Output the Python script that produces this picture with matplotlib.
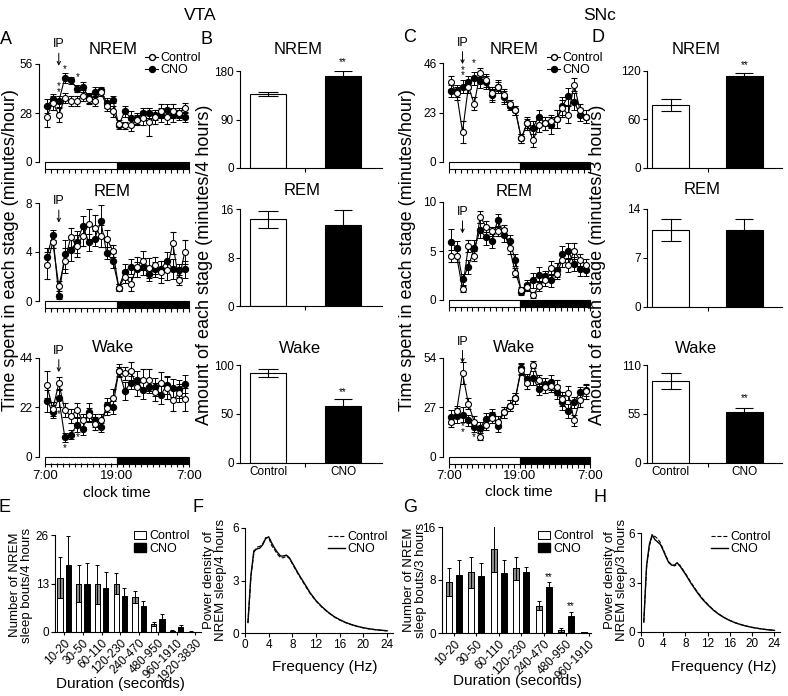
import numpy as np
import matplotlib.pyplot as plt
from matplotlib.patches import Rectangle, Patch
from matplotlib.lines import Line2D

plt.rcParams['font.family'] = ['Liberation Sans', 'DejaVu Sans']
plt.rcParams['axes.linewidth'] = 0.8
plt.rcParams['xtick.major.width'] = 0.8
plt.rcParams['ytick.major.width'] = 0.8
plt.rcParams['xtick.minor.width'] = 0.8
plt.rcParams['xtick.labelsize'] = 8.5
plt.rcParams['ytick.labelsize'] = 8.5
plt.rcParams['xtick.major.pad'] = 1.5
plt.rcParams['ytick.major.pad'] = 1.5

# ---------------- data ----------------
hours = np.arange(24) + 0.3          # hourly bins from 7:00

# VTA time courses (A)
vta_nrem_ctrl = [26, 34, 27, 36.5, 35, 35, 38, 36, 35, 40, 32, 29, 22, 21, 21, 24, 25, 23, 26, 29, 26, 29, 28, 31]
vta_nrem_ctrl_err = [6, 4, 4, 3, 3, 3, 3, 3, 3, 2, 3, 3, 2, 2, 3, 3, 4, 8, 4, 4, 4, 4, 3, 3]
vta_nrem_cno = [32, 36, 34.7, 48, 46.7, 42, 43, 36.6, 40, 41, 33.7, 35.6, 21, 29, 25, 25, 28, 28, 27, 27, 30, 27, 27, 25.7]
vta_nrem_cno_err = [4, 3, 3, 3, 2, 2, 3, 3, 3, 2, 3, 2, 2, 3, 4, 3, 3, 3, 3, 4, 3, 4, 3, 3]

vta_rem_ctrl = [2.9, 4.8, 1.2, 3.3, 5.2, 4.5, 5.3, 6.3, 6.0, 5.3, 5.1, 4.1, 1.1, 2.0, 1.4, 2.8, 3.3, 2.7, 2.9, 2.4, 2.5, 4.7, 1.7, 4.0]
vta_rem_ctrl_err = [1.1, 0.5, 0.4, 1.0, 0.8, 0.9, 0.8, 1.2, 1.0, 0.9, 0.7, 0.5, 0.3, 0.5, 0.6, 0.8, 0.8, 0.8, 0.7, 0.9, 0.8, 0.9, 0.4, 1.0]
vta_rem_cno = [3.6, 5.4, 0.4, 3.8, 4.2, 4.8, 6.1, 4.8, 5.1, 6.5, 3.9, 3.3, 1.1, 2.4, 2.8, 2.6, 2.8, 2.2, 2.6, 2.6, 3.3, 2.6, 2.5, 2.6]
vta_rem_cno_err = [0.7, 0.4, 0.2, 1.2, 0.9, 0.9, 0.8, 0.7, 0.6, 1.3, 0.5, 0.6, 0.3, 0.6, 0.6, 0.6, 0.7, 0.6, 0.6, 0.7, 0.7, 0.8, 0.5, 0.7]

vta_wake_ctrl = [32, 21.2, 32.7, 20.7, 18, 20.7, 16.2, 18.5, 14.7, 16.2, 21.5, 26, 38, 37.2, 38, 31.2, 34.2, 34.2, 29, 32.7, 30.5, 25.2, 28.2, 25.5]
vta_wake_ctrl_err = [6, 3, 3, 3, 3, 3, 3, 3, 3, 3, 3, 4, 2, 3, 4, 4, 5, 5, 4, 5, 5, 5, 4, 5]
vta_wake_cno = [24.8, 20, 26, 8.7, 9.8, 14, 12.5, 20, 16.2, 13, 23, 22, 38.4, 29.4, 33, 34.2, 29.7, 31.2, 31.2, 27.5, 32, 30.5, 30, 32.4]
vta_wake_cno_err = [5, 3, 4, 2, 2, 3, 3, 4, 3, 2, 3, 3, 3, 4, 3, 4, 4, 3, 4, 4, 4, 4, 4, 4]

# SNc time courses (C)
snc_nrem_ctrl = [37, 32, 14, 35, 27, 41.5, 38, 32, 35, 31, 27, 24, 11, 18, 10, 17, 18, 19, 20, 25, 22, 36, 24, 21]
snc_nrem_ctrl_err = [3, 3, 5, 3, 3, 2, 3, 3, 2, 3, 2, 2, 2, 3, 3, 3, 3, 3, 4, 4, 4, 3, 3, 3]
snc_nrem_cno = [33, 33, 35, 37, 39, 37.5, 37, 31, 35, 30, 26, 24, 11, 18, 16, 21, 18, 17, 20, 26, 30.5, 28, 22, 21]
snc_nrem_cno_err = [3, 3, 3, 3, 3, 3, 3, 3, 3, 3, 2, 2, 2, 2, 3, 3, 3, 4, 4, 4, 4, 4, 3, 3]

snc_rem_ctrl = [4.5, 4.5, 1.1, 5.5, 4.5, 8.5, 7.5, 7.0, 7.0, 7.1, 5.3, 2.8, 1.0, 1.35, 0.5, 1.4, 2.0, 3.3, 2.7, 4.1, 3.6, 5.0, 4.1, 3.6]
snc_rem_ctrl_err = [0.6, 0.6, 0.3, 0.6, 0.5, 0.6, 0.6, 0.5, 0.5, 0.6, 0.6, 0.5, 0.3, 0.4, 0.3, 0.5, 0.6, 0.7, 0.6, 0.7, 0.7, 0.8, 0.6, 0.6]
snc_rem_cno = [5.9, 5.3, 2.1, 3.4, 5.3, 7.1, 6.4, 6.0, 8.2, 6.6, 6.0, 4.1, 0.85, 1.5, 2.0, 2.6, 2.4, 2.0, 3.05, 4.7, 5.0, 3.7, 3.2, 3.1]
snc_rem_cno_err = [1.3, 0.7, 0.6, 0.7, 0.8, 0.8, 0.8, 0.7, 0.6, 0.7, 0.6, 0.6, 0.3, 0.5, 0.8, 0.8, 0.6, 0.7, 0.7, 0.8, 0.8, 0.7, 0.7, 0.6]

snc_wake_ctrl = [19, 25, 45.8, 29, 19, 11, 17.6, 21.2, 19, 24.3, 27.8, 32, 47.6, 40.3, 50.4, 41.8, 38, 38.5, 38, 31.5, 34.8, 20, 31, 35.7]
snc_wake_ctrl_err = [3, 3, 6, 3, 3, 2, 3, 3, 3, 3, 3, 3, 3, 3, 2, 3, 3, 3, 4, 4, 4, 3, 4, 4]
snc_wake_cno = [21.8, 22.5, 23, 20, 16.3, 15.8, 20.7, 23, 16.7, 24.3, 27.8, 32, 48.5, 42.5, 43, 37, 40, 40.7, 35.3, 29.7, 24.9, 29.7, 35.3, 36.4]
snc_wake_cno_err = [4, 4, 4, 3, 3, 3, 3, 3, 3, 3, 3, 3, 3, 3, 4, 3, 3, 4, 4, 4, 4, 3, 3, 3]

# totals (B, D): [Control, CNO]
groups = ['Control', 'CNO']
vta_tot_nrem, vta_tot_nrem_err = [137, 171], [4, 9]
vta_tot_rem, vta_tot_rem_err = [14.3, 13.3], [1.4, 2.5]
vta_tot_wake, vta_tot_wake_err = [91.5, 58], [4, 7.5]
snc_tot_nrem, snc_tot_nrem_err = [77.5, 113.4], [7.5, 3.3]
snc_tot_rem, snc_tot_rem_err = [11.0, 11.0], [1.6, 1.6]
snc_tot_wake, snc_tot_wake_err = [92.4, 57.4], [9, 3.8]

# bout distributions (E, G)
bins_vta = ['10-20', '30-50', '60-110', '120-230', '240-470', '480-950', '960-1910', '1920-3830']
vta_bout_ctrl = [14.5, 13, 12.8, 13, 9.4, 2.2, 0.4, 0.1]
vta_bout_ctrl_err = [5.5, 5, 5.2, 2.7, 1.6, 0.5, 0.1, 0.05]
vta_bout_cno = [18, 13, 11.8, 9.6, 6.9, 3.6, 1.35, 0.05]
vta_bout_cno_err = [7.7, 5.4, 4.3, 2.3, 1.3, 1.1, 0.45, 0.02]
bins_snc = ['10-20', '30-50', '60-110', '120-230', '240-470', '480-950', '960-1910']
snc_bout_ctrl = [7.65, 9.15, 12.75, 9.75, 4.15, 0.5, 0.1]
snc_bout_ctrl_err = [2.1, 2.35, 3.5, 1.75, 0.75, 0.3, 0.05]
snc_bout_cno = [8.75, 8.6, 9.0, 9.25, 7.0, 2.5, 0.05]
snc_bout_cno_err = [2.25, 1.9, 2.0, 0.75, 0.75, 0.6, 0.02]

# NREM power spectra (F, H)
freq = [0.5, 1, 1.5, 2, 2.5, 3, 3.5, 4, 4.5, 5, 5.5, 6, 6.5, 7, 7.5, 8, 9, 10, 11, 12,
        13, 14, 15, 16, 17, 18, 19, 20, 21, 22, 23, 24]
vta_pow_ctrl = [0.6, 3.2, 4.6, 4.9, 4.95, 5.1, 5.45, 5.45, 5.0, 4.75, 4.5, 4.3, 4.3, 4.4, 4.25, 3.95,
                3.35, 2.8, 2.25, 1.82, 1.47, 1.18, 0.93, 0.74, 0.59, 0.47, 0.37, 0.29, 0.23, 0.19, 0.15, 0.12]
vta_pow_cno = [0.6, 3.3, 4.7, 4.8, 4.85, 5.05, 5.4, 5.5, 5.15, 4.85, 4.6, 4.4, 4.4, 4.45, 4.3, 4.0,
               3.4, 2.85, 2.3, 1.85, 1.5, 1.2, 0.95, 0.76, 0.6, 0.48, 0.38, 0.3, 0.24, 0.19, 0.16, 0.13]
snc_pow_ctrl = [0.6, 3.9, 5.2, 5.8, 5.8, 5.65, 5.4, 5.0, 4.6, 4.25, 4.1, 4.0, 4.1, 4.05, 3.8, 3.55,
                3.0, 2.5, 2.05, 1.68, 1.35, 1.09, 0.88, 0.7, 0.56, 0.45, 0.36, 0.28, 0.22, 0.17, 0.13, 0.1]
snc_pow_cno = [0.6, 4.0, 5.3, 5.9, 5.6, 5.45, 5.3, 4.95, 4.55, 4.2, 4.05, 4.05, 4.2, 4.0, 3.75, 3.5,
               2.95, 2.45, 2.0, 1.65, 1.33, 1.07, 0.86, 0.69, 0.55, 0.44, 0.35, 0.28, 0.22, 0.17, 0.13, 0.1]

# ---------------- layout helpers ----------------
W, H = 788, 696
fig = plt.figure(figsize=(W / 100, H / 100), dpi=100)


def box(x0, x1, ytop, ybot):
    return [x0 / W, 1 - ybot / H, (x1 - x0) / W, (ybot - ytop) / H]


def ftext(x, y, s, **kw):
    kw.setdefault('ha', 'center')
    kw.setdefault('va', 'center')
    fig.text(x / W, 1 - y / H, s, **kw)


def timecourse(rect, ctrl, ctrl_err, cno, cno_err, ymax, show_x=False):
    ax = fig.add_axes(rect)
    ax.errorbar(hours, cno, yerr=cno_err, fmt='-o', color='black', mfc='black', mec='black',
                ms=4.3, lw=0.8, elinewidth=0.7, capsize=2, capthick=0.7, zorder=2, clip_on=False)
    ax.errorbar(hours, ctrl, yerr=ctrl_err, fmt='-o', color='black', mfc='white', mec='black',
                ms=4.3, mew=0.8, lw=0.8, elinewidth=0.7, capsize=2, capthick=0.7, zorder=3, clip_on=False)
    ax.set_xlim(0, 24)
    ax.set_ylim(0, ymax)
    ax.set_yticks([0, ymax // 2, ymax])
    ax.spines[['top', 'right']].set_visible(False)
    ax.spines['left'].set_position(('outward', 4.5))
    ax.spines['bottom'].set_position(('outward', 5))
    ax.spines['bottom'].set_visible(False)
    tr = ax.get_xaxis_transform()
    ax.add_patch(Rectangle((0, -0.072), 12, 0.072, transform=tr, fc='white', ec='black', lw=0.8, clip_on=False))
    ax.add_patch(Rectangle((12, -0.072), 12, 0.072, transform=tr, fc='black', ec='black', lw=0.8, clip_on=False))
    ax.set_xticks([0, 12, 24])
    ax.set_xticks(np.arange(25), minor=True)
    ax.tick_params(axis='x', which='both', direction='out', length=3)
    ax.tick_params(axis='y', length=3)
    if show_x:
        ax.set_xticklabels(['7:00', '19:00', '7:00'], fontsize=9.5)
    else:
        ax.set_xticklabels([])
    return ax


def ip_mark(ax, y):
    ax.annotate('IP', xy=(2.3, y), xytext=(0, 11), textcoords='offset points', ha='center', va='bottom',
                fontsize=9, arrowprops=dict(arrowstyle='->', lw=0.7, mutation_scale=6, shrinkA=0, shrinkB=0),
                annotation_clip=False)


def star(ax, x, y, s='*'):
    ax.text(x, y, s, ha='center', va='center', fontsize=7, clip_on=False)


def barpanel(rect, vals, errs, ymax, xlim):
    ax = fig.add_axes(rect)
    ax.bar([0], [vals[0]], 0.49, color='white', edgecolor='black', lw=0.8, zorder=2)
    ax.bar([1], [vals[1]], 0.49, color='black', edgecolor='black', lw=0.8, zorder=2)
    ax.errorbar([0], [vals[0]], yerr=[errs[0]], fmt='none', ecolor='black', elinewidth=0.8,
                capsize=7.5, capthick=0.8, zorder=3)
    ax.errorbar([1], [vals[1]], yerr=[errs[1]], fmt='none', ecolor='black', elinewidth=0.8,
                capsize=6.5, capthick=0.8, zorder=3)
    ax.set_xlim(*xlim)
    ax.set_ylim(0, ymax)
    ax.set_yticks([0, ymax / 2, ymax])
    ax.yaxis.set_major_formatter(plt.FuncFormatter(lambda v, p: f'{v:g}'))
    ax.spines[['top', 'right']].set_visible(False)
    ax.set_xticks([0.5])
    ax.set_xticklabels([])
    ax.tick_params(axis='x', length=3)
    ax.tick_params(axis='y', length=3)
    return ax


def boutpanel(rect, labels, ctrl, ctrl_err, cno, cno_err, ymax, xlim):
    ax = fig.add_axes(rect)
    x = np.arange(len(labels))
    ax.bar(x - 0.22, ctrl, 0.28, color='white', edgecolor='black', lw=0.7, zorder=2)
    ax.bar(x - 0.22, ctrl_err, 0.28, bottom=np.array(ctrl) - np.array(ctrl_err),
           color='#8c8c8c', edgecolor='black', lw=0.7, zorder=2)
    ax.bar(x + 0.22, cno, 0.28, color='black', edgecolor='black', lw=0.7, zorder=2)
    ax.errorbar(x - 0.22, ctrl, yerr=ctrl_err, fmt='none', ecolor='black', elinewidth=0.7,
                capsize=1.5, capthick=0.7, zorder=3)
    ax.errorbar(x + 0.22, cno, yerr=cno_err, fmt='none', ecolor='black', elinewidth=0.7,
                capsize=1.5, capthick=0.7, zorder=3)
    ax.set_xlim(*xlim)
    ax.set_ylim(0, ymax)
    ax.set_yticks([0, ymax // 2, ymax])
    ax.set_xticks(x)
    ax.set_xticklabels(labels, rotation=45, ha='right', rotation_mode='anchor', fontsize=8.5)
    ax.spines[['top', 'right']].set_visible(False)
    ax.tick_params(axis='x', length=2)
    ax.tick_params(axis='y', length=3)
    leg = ax.legend([Patch(fc='white', ec='black', lw=0.7), Patch(fc='black', ec='black')],
                    ['Control', 'CNO'], loc='upper left', frameon=False, fontsize=9,
                    handlelength=0.9, handleheight=0.7, handletextpad=0.3, labelspacing=0.05,
                    borderpad=0, bbox_transform=fig.transFigure)
    return ax, leg


def powerpanel(rect, ctrl, cno):
    ax = fig.add_axes(rect)
    ax.plot(freq, ctrl, '--', color='black', lw=0.8, label='Control')
    ax.plot(freq, cno, '-', color='black', lw=1.0, label='CNO')
    ax.set_xlim(0, 25)
    ax.set_ylim(0, 6)
    ax.set_yticks([0, 3, 6])
    ax.set_xticks(np.arange(0, 25, 4))
    ax.spines[['top', 'right']].set_visible(False)
    ax.tick_params(length=3)
    return ax


# ---------------- column headings ----------------
ftext(200, 15, 'VTA', fontsize=12.5)
ftext(600, 15, 'SNc', fontsize=12.5)
for s, x, y in [('A', 6, 39), ('B', 206, 39), ('C', 410, 38), ('D', 598, 38),
                ('E', 5, 507), ('F', 198, 507), ('G', 410, 507), ('H', 600, 498)]:
    ftext(x, y, s, fontsize=13)

# ---------------- A: VTA time courses ----------------
axA1 = timecourse(box(45, 189, 64, 162), vta_nrem_ctrl, vta_nrem_ctrl_err, vta_nrem_cno, vta_nrem_cno_err, 56)
axA2 = timecourse(box(45, 189, 203, 301), vta_rem_ctrl, vta_rem_ctrl_err, vta_rem_cno, vta_rem_cno_err, 8)
axA3 = timecourse(box(45, 189, 358, 456.5), vta_wake_ctrl, vta_wake_ctrl_err, vta_wake_cno, vta_wake_cno_err, 44, True)
ip_mark(axA1, 55)
ip_mark(axA2, 6.4)
ip_mark(axA3, 37.7)
star(axA1, 2.3, 43.4); star(axA1, 2.3, 40.2); star(axA1, 3.3, 53.0); star(axA1, 5.4, 48.4)
star(axA3, 2.3, 19); star(axA3, 3.3, 3.8); star(axA3, 5.4, 8.7)
ftext(113, 50, 'NREM', fontsize=12)
ftext(112, 192, 'REM', fontsize=12)
ftext(113, 347, 'Wake', fontsize=12)
ftext(117, 493, 'clock time', fontsize=11)
ftext(11, 250, 'Time spent in each stage (minutes/hour)', fontsize=13, rotation=90)

# ---------------- C: SNc time courses ----------------
axC1 = timecourse(box(449, 590, 63, 162), snc_nrem_ctrl, snc_nrem_ctrl_err, snc_nrem_cno, snc_nrem_cno_err, 46)
axC2 = timecourse(box(449, 590, 202, 300), snc_rem_ctrl, snc_rem_ctrl_err, snc_rem_cno, snc_rem_cno_err, 10)
axC3 = timecourse(box(449, 590, 358, 456.7), snc_wake_ctrl, snc_wake_ctrl_err, snc_wake_cno, snc_wake_cno_err, 54, True)
ip_mark(axC1, 45.5)
ip_mark(axC2, 6.8)
ip_mark(axC3, 51.3)
star(axC1, 2.3, 42.5); star(axC1, 2.3, 40.2); star(axC1, 4.3, 45.9)
star(axC3, 2.3, 16.8); star(axC3, 2.3, 13.7); star(axC3, 4.3, 10.6)
ftext(514, 49, 'NREM', fontsize=12)
ftext(514, 192, 'REM', fontsize=12)
ftext(514, 347, 'Wake', fontsize=12)
ftext(519, 492, 'clock time', fontsize=11)
ftext(408, 250, 'Time spent in each stage (minutes/hour)', fontsize=13, rotation=90)

tc_handles = [Line2D([], [], color='black', lw=0.8, marker='o', ms=4.3, mfc='white', mec='black'),
              Line2D([], [], color='black', lw=0.8, marker='o', ms=4.3, mfc='black', mec='black')]
for ax, x0 in [(axA1, 139), (axC1, 541)]:
    ax.legend(tc_handles, ['Control', 'CNO'], loc='upper left', bbox_to_anchor=(x0 / W, 1 - 46 / H),
              bbox_transform=fig.transFigure, frameon=False, fontsize=9, handlelength=1.0,
              handletextpad=0.2, labelspacing=0.0, borderpad=0)

# ---------------- B, D: totals ----------------
xlB = (-0.373, 1.52)
xlD = (-0.318, 1.507)
axB1 = barpanel(box(240, 382, 71, 168), vta_tot_nrem, vta_tot_nrem_err, 180, xlB)
axB2 = barpanel(box(240, 382, 209, 306), vta_tot_rem, vta_tot_rem_err, 16, xlB)
axB3 = barpanel(box(240, 382, 365, 462.7), vta_tot_wake, vta_tot_wake_err, 100, xlB)
axD1 = barpanel(box(647, 782, 70.7, 167.7), snc_tot_nrem, snc_tot_nrem_err, 120, xlD)
axD2 = barpanel(box(647, 782, 209, 306.7), snc_tot_rem, snc_tot_rem_err, 14, xlD)
axD3 = barpanel(box(647, 782, 365, 462.7), snc_tot_wake, snc_tot_wake_err, 110, xlD)
for ax in (axB3, axD3):
    for i, g in enumerate(groups):
        ax.text(i, -0.1, g, transform=ax.get_xaxis_transform(), ha='center', va='center', fontsize=8.5)
star(axB1, 1, 196.7, '**'); star(axB3, 1, 72.7, '**')
star(axD1, 1, 127, '**'); star(axD3, 1, 72.5, '**')
ftext(298, 49, 'NREM', fontsize=12)
ftext(302, 191, 'REM', fontsize=12)
ftext(300, 349, 'Wake', fontsize=12)
ftext(696, 49, 'NREM', fontsize=12)
ftext(702, 189, 'REM', fontsize=12)
ftext(696, 349, 'Wake', fontsize=12)
ftext(205, 265, 'Amount of each stage (minutes/4 hours)', fontsize=13, rotation=90)
ftext(597, 265, 'Amount of each stage (minutes/3 hours)', fontsize=13, rotation=90)

# ---------------- E, G: bout distributions ----------------
axE, legE = boutpanel(box(55, 201, 535, 632), bins_vta, vta_bout_ctrl, vta_bout_ctrl_err,
                      vta_bout_cno, vta_bout_cno_err, 26, (-0.48, 7.3))
legE.set_bbox_to_anchor((128 / W, 1 - 524 / H), transform=fig.transFigure)
axG, legG = boutpanel(box(442, 591, 527, 633), bins_snc, snc_bout_ctrl, snc_bout_ctrl_err,
                      snc_bout_cno, snc_bout_cno_err, 16, (-0.52, 6.1))
legG.set_bbox_to_anchor((532 / W, 1 - 524 / H), transform=fig.transFigure)
star(axG, 4.22, 8.45, '**'); star(axG, 5.22, 4.1, '**')
ftext(21, 585, 'Number of NREM\nsleep bouts/4 hours', fontsize=9.5, rotation=90, linespacing=1.0)
ftext(415, 580, 'Number of NREM\nsleep bouts/3 hours', fontsize=9.5, rotation=90, linespacing=1.0)
ftext(120, 684, 'Duration (seconds)', fontsize=11)
ftext(517, 681, 'Duration (seconds)', fontsize=11)

# ---------------- F, H: power spectra ----------------
axF = powerpanel(box(245, 393, 528, 633), vta_pow_ctrl, vta_pow_cno)
axH = powerpanel(box(641, 780, 533, 632), snc_pow_ctrl, snc_pow_cno)
for ax, x0 in [(axF, 322), (axH, 705)]:
    ax.legend(loc='upper left', bbox_to_anchor=(x0 / W, 1 - 525 / H), bbox_transform=fig.transFigure,
              frameon=False, fontsize=9, handlelength=1.3, handletextpad=0.2, labelspacing=0.0, borderpad=0)
ftext(215, 580, 'Power density of\nNREM sleep/4 hours', fontsize=9.5, rotation=90, linespacing=1.0)
ftext(616, 580, 'Power density of\nNREM sleep/3 hours', fontsize=9.5, rotation=90, linespacing=1.0)
ftext(325, 667, 'Frequency (Hz)', fontsize=11)
ftext(724, 667, 'Frequency (Hz)', fontsize=11)

fig.savefig('out.png', dpi=100)
